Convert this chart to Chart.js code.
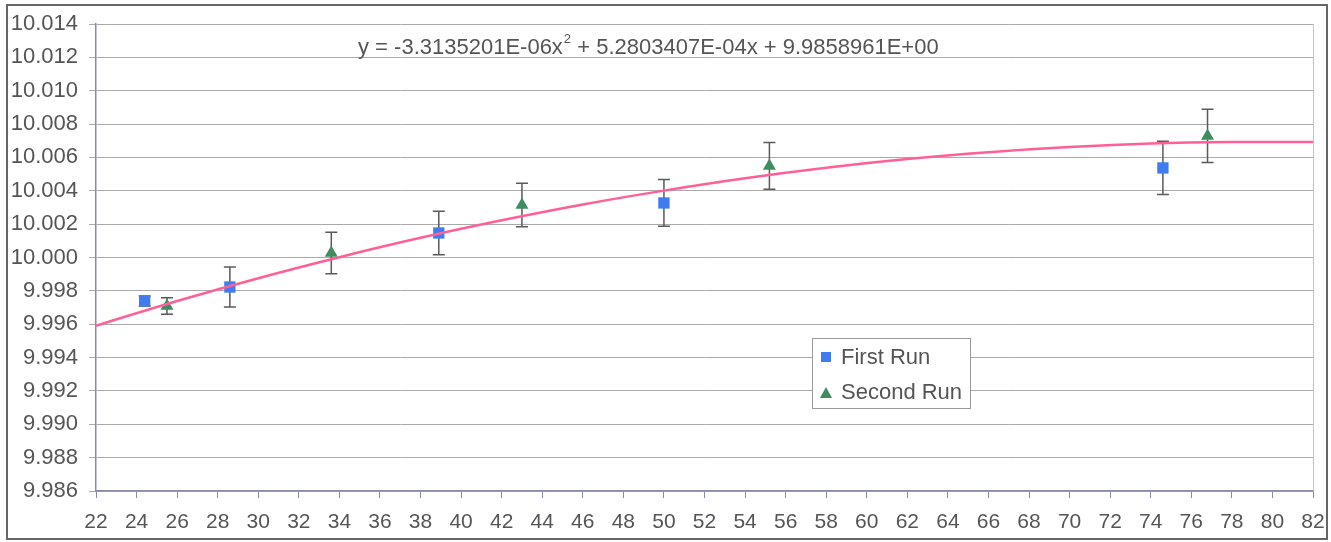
<!DOCTYPE html>
<html><head><meta charset="utf-8">
<script src="https://cdn.jsdelivr.net/npm/chart.js@4/dist/chart.umd.min.js"></script>
<style>html,body{margin:0;padding:0;background:#fff}#wrap{width:1331px;height:542px;position:relative}</style>
</head><body><div id="wrap"><canvas id="c" width="1331" height="542"></canvas></div>
<script>
// Data
const firstRunX = [24.4, 28.6, 38.9, 50.0, 74.6];
const firstRunY = [9.99739, 9.99823, 10.00147, 10.00327, 10.00537];
const firstRunErr = [0.0003, 0.0012, 0.0013, 0.0014, 0.0016];
const secondRunX = [25.5, 33.6, 43.0, 55.2, 76.8];
const secondRunY = [9.99709, 10.00027, 10.00315, 10.00549, 10.00729];
const secondRunErr = [0.0005, 0.00125, 0.0013, 0.0014, 0.0016];
const trendX = [22, 26, 30, 34, 38, 42, 46, 50, 54, 58, 62, 66, 70, 74, 78, 82];
const trendY = [9.99591, 9.99739, 9.99876, 10.00002, 10.00118, 10.00223, 10.00318, 10.00401, 10.00475, 10.00538, 10.00590, 10.00631, 10.00662, 10.00683, 10.00692, 10.00692];
const equationText = "y = -3.3135201E-06x";
const equationRest = " + 5.2803407E-04x + 9.9858961E+00";
const seriesNames = ["First Run", "Second Run"];
const yTicksMin = 9.986, yTicksMax = 10.014, yStep = 0.002;
const xMin = 22, xMax = 82, xStep = 2;

const toPts = (xs, ys) => xs.map((x, i) => ({x: x, y: ys[i]}));
const FONT = "'Liberation Sans', Arial, sans-serif";
const TXT = '#555';
const BLUE = '#3f7cf0', GREEN = '#3e8c60', PINK = '#ff5f98';

const errPlugin = {
  id: 'errbars',
  beforeDatasetsDraw(chart) {
    const ctx = chart.ctx, xs = chart.scales.x, ys = chart.scales.y;
    const sets = [[firstRunX, firstRunY, firstRunErr], [secondRunX, secondRunY, secondRunErr]];
    ctx.save();
    ctx.strokeStyle = '#5a5a5a'; ctx.lineWidth = 1.5;
    sets.forEach(([X, Y, E]) => {
      X.forEach((x, i) => {
        const px = xs.getPixelForValue(x);
        const t = ys.getPixelForValue(Y[i] + E[i]);
        const b = ys.getPixelForValue(Y[i] - E[i]);
        ctx.beginPath();
        ctx.moveTo(px, t); ctx.lineTo(px, b);
        ctx.moveTo(px - 6, t); ctx.lineTo(px + 6, t);
        ctx.moveTo(px - 6, b); ctx.lineTo(px + 6, b);
        ctx.stroke();
      });
    });
    ctx.restore();
  }
};

const decoPlugin = {
  id: 'deco',
  beforeDraw(chart) {
    const ctx = chart.ctx;
    ctx.save();
    ctx.fillStyle = '#fff'; ctx.fillRect(0, 0, chart.width, chart.height);
    ctx.restore();
  },
  afterDraw(chart) {
    const ctx = chart.ctx, a = chart.chartArea;
    ctx.save();
    // right edge of plot area
    ctx.strokeStyle = '#b8c4f0'; ctx.lineWidth = 1;
    ctx.beginPath(); ctx.moveTo(a.right + 0.5, a.top); ctx.lineTo(a.right + 0.5, a.bottom); ctx.stroke();
    // outer border
    ctx.strokeStyle = '#666'; ctx.lineWidth = 2;
    ctx.strokeRect(7, 5, 1320, 534);
    // equation
    ctx.fillStyle = TXT; ctx.textBaseline = 'alphabetic';
    ctx.font = '22px ' + FONT;
    let x0 = 358, y0 = 54;
    ctx.fillText(equationText, x0, y0);
    let w = ctx.measureText(equationText).width;
    ctx.font = '13px ' + FONT;
    ctx.fillText('2', x0 + w + 1, y0 - 11);
    let w2 = ctx.measureText('2').width;
    ctx.font = '22px ' + FONT;
    ctx.fillText(equationRest, x0 + w + w2 + 1, y0);
    // legend
    ctx.fillStyle = '#fff';
    ctx.fillRect(812, 338, 158, 70);
    ctx.strokeStyle = '#999'; ctx.lineWidth = 1;
    ctx.strokeRect(812.5, 338.5, 158, 70);
    ctx.fillStyle = BLUE; ctx.fillRect(821, 352, 10, 10);
    ctx.fillStyle = GREEN;
    ctx.beginPath(); ctx.moveTo(826, 387); ctx.lineTo(832, 398); ctx.lineTo(820, 398); ctx.closePath(); ctx.fill();
    ctx.fillStyle = TXT; ctx.font = '22px ' + FONT; ctx.textBaseline = 'middle';
    ctx.fillText(seriesNames[0], 841, 358);
    ctx.fillText(seriesNames[1], 841, 393);
    ctx.restore();
  }
};

new Chart(document.getElementById('c'), {
  type: 'scatter',
  data: {
    datasets: [
      { label: 'Trend', type: 'line', data: toPts(trendX, trendY), borderColor: PINK, borderWidth: 2.5,
        pointRadius: 0, tension: 0.4, fill: false, order: 0 },
      { label: seriesNames[0], data: toPts(firstRunX, firstRunY), pointStyle: 'rect', pointRadius: 8,
        backgroundColor: BLUE, borderColor: BLUE, borderWidth: 0, order: 1 },
      { label: seriesNames[1], data: toPts(secondRunX, secondRunY), pointStyle: 'triangle', pointRadius: 7.5,
        backgroundColor: GREEN, borderColor: GREEN, borderWidth: 0, order: 1 }
    ]
  },
  options: {
    responsive: false, animation: false, devicePixelRatio: 1,
    layout: { padding: { left: 0, top: 24, right: 18, bottom: 0 } },
    plugins: { legend: { display: false }, tooltip: { enabled: false }, title: { display: false } },
    scales: {
      x: {
        type: 'linear', min: xMin, max: xMax,
        afterFit(s) { s.height = 51; s.paddingRight = 0; s.paddingLeft = 0; },
        ticks: { stepSize: xStep, color: TXT, font: { size: 21, family: FONT }, padding: 12, maxRotation: 0, autoSkip: false },
        grid: { drawOnChartArea: false, drawTicks: true, tickLength: 7, color: '#8a8aa8' },
        border: { color: '#8a8aa8', width: 1.5 }
      },
      y: {
        type: 'linear', min: yTicksMin, max: yTicksMax,
        afterFit(s) { s.width = 96; s.paddingTop = 0; s.paddingBottom = 0; },
        ticks: { stepSize: yStep, color: TXT, font: { size: 22, family: FONT }, padding: 11,
          callback: v => v.toFixed(3) },
        grid: { color: '#aaa', lineWidth: 1, tickLength: 7 },
        border: { color: '#8a8aa8', width: 1.5 }
      }
    }
  },
  plugins: [errPlugin, decoPlugin]
});
</script></body></html>
